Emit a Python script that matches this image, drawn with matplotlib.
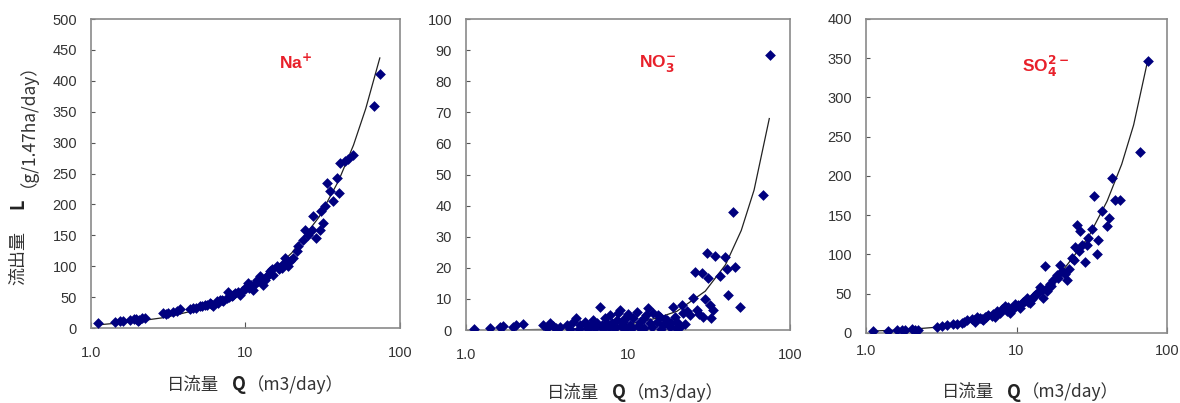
import matplotlib
matplotlib.use("Agg")
import matplotlib.pyplot as plt
from matplotlib.ticker import FixedLocator, FixedFormatter, NullLocator

plt.rcParams['font.family'] = ['Liberation Sans', 'DejaVu Sans']
cjk = ['Noto Sans CJK JP', 'DejaVu Sans']

# Na+ : daily flow Q (m3/day) vs load L (g/1.47ha/day)
na_q = [1.11, 1.43, 1.55, 1.62, 1.79, 1.9, 1.97, 2.02, 2.05, 2.13, 2.23,
        2.94, 3.05, 3.16, 3.41, 3.6, 3.76, 4.37, 4.6, 4.8, 5.07, 5.2, 5.46,
        5.6, 5.89, 6.0, 6.2, 6.5, 6.6, 6.84, 7.0, 7.2, 7.55, 7.7, 7.8, 8.2,
        8.34, 8.6, 8.98, 9.2, 9.5, 9.93, 10.1, 10.4, 10.6, 10.9, 11.2, 11.5,
        11.8, 12.0, 12.4, 12.8, 13.0, 13.3, 13.7, 14.0, 14.4, 14.8, 15.1,
        15.9, 16.4, 17.1, 17.5, 18.0, 18.9, 19.3, 20.4, 21.5, 22.0, 23.7,
        24.2, 25.4, 26.8, 27.4, 28.8, 30.3, 31.0, 31.8, 32.6, 33.5, 35.2,
        37.0, 38.9, 40.4, 40.9, 44.0, 46.3, 49.9, 67.6, 74.0]
na_l = [8, 10, 11, 12, 13, 15, 14.5, 12, 13, 16, 16,
        24, 22, 24, 26, 28, 30, 30, 32, 33, 36, 35, 38,
        37, 40, 39, 36, 43, 41, 46, 45, 43, 49, 59, 50, 52,
        54, 56, 59, 54, 60, 63, 66, 73, 64, 70, 62, 72,
        78, 76, 84, 80, 70, 78, 84, 86, 92, 95, 86,
        100, 95, 97, 103, 113, 100, 108, 113, 124, 132, 143,
        159, 151, 159, 182, 146, 159, 189, 170, 197, 235, 221,
        205, 243, 218, 267, 270, 273, 280, 359, 411]
na_fit_q = [1.1, 1.5, 2, 3, 5, 7, 10, 15, 20, 30, 40, 50, 60, 74]
na_fit_l = [5, 8, 11, 17, 30, 42, 62, 92, 122, 180, 238, 296, 355, 437]

# NO3-
no3_q = [1.12, 1.41, 1.62, 1.70, 1.96, 2.05, 2.26, 3.0, 3.15, 3.3, 3.46,
         3.6, 3.8, 4.18, 4.4, 4.6, 4.8, 5.0, 5.06, 5.4, 5.6, 5.8, 6.0, 6.1,
         6.3, 6.4, 6.7, 6.9, 7.0, 7.2, 7.4, 7.6, 7.7, 8.0, 8.1, 8.3, 8.5,
         8.7, 8.9, 9.0, 9.3, 9.5, 9.6, 9.8, 10.0, 10.3, 10.6, 10.8, 11.3,
         11.5, 11.8, 12.1, 12.5, 12.5, 13.0, 13.2, 13.6, 14.0, 14.3, 15.0,
         15.3, 15.8, 16.0, 16.5, 17.0, 17.3, 18.2, 18.5, 19.0, 19.5, 19.8,
         20.0, 21.0, 21.4, 21.9, 22.5, 23.0, 24.1, 25.3, 25.9, 26.5, 27.5,
         28.5, 29.1, 30.0, 30.6, 31.2, 31.9, 32.5, 33.4, 34.4, 36.9, 39.7,
         40.7, 41.6, 44.7, 45.7, 49.1, 68.4, 75.0]
no3_l = [0.2, 0.8, 0.9, 1.3, 1.1, 1.6, 1.8, 1.6, 0.5, 2.4, 1.3,
         0.8, 0.9, 1.6, 0.4, 2.7, 3.8, 0.3, 1.6, 2.7, 0.5, 1.1, 1.8, 3.2,
         0.8, 2.1, 7.5, 1.6, 0.4, 3.8, 2.1, 1.0, 4.8, 2.4, 1.1, 0.6, 3.2,
         5.4, 6.4, 1.2, 2.7, 3.5, 0.3, 4.3, 5.0, 1.6, 0.8, 3.8, 5.9,
         1.3, 2.7, 0.5, 0.6, 3.8, 4.8, 7.0, 2.1, 1.0, 5.4, 2.5,
         4.8, 4.3, 0.4, 1.6, 3.5, 3.2, 1.1, 2.2, 7.5, 4.3, 0.8,
         2.7, 1.0, 8.0, 5.4, 2.0, 6.0, 4.8, 10.2, 18.8, 6.4, 5.0,
         18.2, 4.3, 10.0, 24.7, 16.6, 8.0, 4.0, 6.4, 23.8, 17.4, 23.6,
         19.5, 11.3, 38.1, 20.4, 7.5, 43.5, 88.5]
no3_fit_q = [2.3, 3, 5, 7, 10, 15, 20, 30, 40, 50, 60, 74.5]
no3_fit_l = [0.1, 0.2, 0.4, 0.9, 1.8, 3.8, 6.0, 12.5, 21, 32, 45, 68]

# SO4 2-
so4_q = [1.12, 1.41, 1.6, 1.73, 1.82, 2.01, 2.12, 2.23, 2.95, 3.19, 3.44,
         3.81, 4.0, 4.33, 4.5, 4.67, 5.04, 5.2, 5.3, 5.45, 5.7, 5.88, 6.0,
         6.2, 6.3, 6.5, 6.85, 7.0, 7.2, 7.4, 7.8, 8.0, 8.4, 8.6, 8.8, 9.07,
         9.3, 9.5, 9.8, 10.2, 10.6, 10.8, 11.1, 11.4, 11.7, 12.0, 12.3,
         12.7, 13.0, 13.3, 13.6, 14.0, 14.4, 14.8, 15.1, 15.5, 15.9, 16.2,
         16.7, 17.0, 17.6, 18.5, 19.0, 19.5, 20.0, 21.0, 21.6, 22.2, 23.3,
         24.0, 24.5, 25.1, 26.0, 26.4, 27.2, 28.6, 29.3, 30.0, 31.7, 32.5,
         34.2, 35.0, 37.0, 39.9, 40.9, 43.1, 45.3, 48.9, 66.5, 74.4]
so4_l = [3, 3, 4, 4, 3.4, 5.5, 4, 3.4, 7.6, 8.5, 10.6,
         11.9, 12, 12.7, 14, 16, 18, 16, 13.6, 21, 19, 18, 17,
         20, 21, 23, 22, 24, 20, 27.6, 25.5, 30, 35, 27.6, 33, 25.5,
         32, 30, 37, 36, 32, 38, 40, 41, 44.6, 40, 38,
         43, 46.7, 48, 51, 52, 59, 55, 44.6, 85, 53, 58,
         62, 60, 68, 74, 70, 87, 79, 75, 68, 81, 96,
         93, 110, 138, 105, 130, 112, 91, 112, 121, 132, 174,
         100, 119, 155, 136, 146, 197, 170, 170, 230, 347]
so4_fit_q = [1.1, 1.5, 2, 3, 5, 7, 10, 15, 20, 30, 40, 50, 60, 74.4]
so4_fit_l = [2.5, 3.5, 4.8, 7.5, 14, 21, 34, 55, 78, 122, 168, 215, 265, 347]

W, H = 1180, 403

panels = [
    (na_q, na_l, na_fit_q, na_fit_l, 500, 50, r'Na$^{\mathbf{+}}$',
     [0.0771, 0.1861, 0.2619, 0.7667], 13, (167, 385), (279, 62)),
    (no3_q, no3_l, no3_fit_q, no3_fit_l, 100, 10, r'NO$_{\mathbf{3}}^{\mathbf{-}}$',
     [0.3949, 0.1811, 0.2746, 0.7717], 13, (547, 393), (639, 64)),
    (so4_q, so4_l, so4_fit_q, so4_fit_l, 400, 50, r'SO$_{\mathbf{4}}^{\mathbf{2-}}$',
     [0.7339, 0.1737, 0.2551, 0.7792], 8, (942, 392), (1022, 66)),
]

fig = plt.figure(figsize=(W / 100, H / 100), dpi=100)

def px(x, y):
    return x / W, 1 - y / H

for q, l, fq, fl, ymax, ystep, ion, rect, xpad, xlab, ionxy in panels:
    ax = fig.add_axes(rect)
    ax.plot(fq, fl, color='#222222', lw=0.9, zorder=2)
    ax.scatter(q, l, marker='D', s=30, color='#00007f', linewidths=0, zorder=3)
    ax.set_xscale('log')
    ax.set_xlim(1, 100)
    ax.set_ylim(0, ymax)
    ax.xaxis.set_major_locator(FixedLocator([1, 10, 100]))
    ax.xaxis.set_major_formatter(FixedFormatter(['1.0', '10', '100']))
    ax.xaxis.set_minor_locator(NullLocator())
    ax.set_yticks(range(0, ymax + 1, ystep))
    ax.tick_params(axis='x', direction='in', length=4, color='#555555',
                   labelsize=10.5, labelcolor='#333333', pad=xpad)
    ax.tick_params(axis='y', direction='in', length=3, color='#555555',
                   labelsize=10.5, labelcolor='#333333', pad=10)
    for sp in ax.spines.values():
        sp.set_color('#8a8a8a')
        sp.set_linewidth(1.2)
    fig.text(*px(*ionxy), ion, color='#e8202a', fontsize=12.5,
             fontweight='bold', ha='left', va='center')
    # x label in three pieces: plain text, bold Q, unit in full-width parens
    x0, y0 = xlab
    fig.text(*px(x0, y0), '日流量', fontsize=12.5, family=cjk,
             color='#333333', ha='left', va='center')
    fig.text(*px(x0 + 65, y0), 'Q', fontsize=13, family=cjk,
             fontweight='bold', color='#222222', ha='left', va='center')
    fig.text(*px(x0 + 80, y0), '（m3/day）', fontsize=12.5,
             family=cjk, color='#333333', ha='left', va='center')

# shared y label, bottom to top
fig.text(*px(18, 258), '流出量', rotation=90, fontsize=13, family=cjk,
         color='#333333', ha='center', va='center')
fig.text(*px(18, 204), 'L', rotation=90, fontsize=13, family=cjk,
         fontweight='bold', color='#222222', ha='center', va='center')
fig.text(*px(18, 116), '（g/1.47ha/day）', rotation=90, fontsize=12.5,
         family=cjk, color='#333333', ha='center', va='center')

fig.savefig('out.png', dpi=100)
